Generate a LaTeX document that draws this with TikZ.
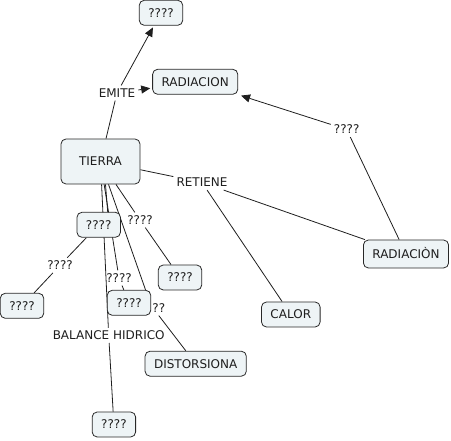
\documentclass[tikz,border=0pt]{standalone}
\usepackage{fontspec}
\setmainfont{DejaVu Sans}
\usetikzlibrary{arrows.meta,backgrounds}
\definecolor{conceptfill}{RGB}{238,244,246}
\definecolor{conceptline}{RGB}{40,40,40}
\definecolor{inkgray}{RGB}{30,30,30}
\tikzset{
  link/.style={inkgray,line width=0.8pt},
  flow/.style={link,-{Triangle[length=9pt,width=8pt]},shorten >=2pt},
  concept/.style={draw=conceptline,line width=0.8pt,fill=conceptfill,rounded corners=5pt,
                  minimum height=25pt,inner xsep=9pt,inner ysep=3pt,text height=8.8pt,text depth=0pt,
                  font=\fontsize{12}{14}\selectfont,text=inkgray},
  phrase/.style={inner sep=3pt,text height=8.8pt,text depth=0pt,
                 font=\fontsize{12}{14}\selectfont,text=inkgray},
}
\begin{document}
\begin{tikzpicture}[x=1pt,y=-1pt]
  \path[use as bounding box] (0,0) rectangle (451,441);

  \node[concept] (qtop) at (161,12.8) {????};
  \node[concept] (radA) at (195.2,81.8) {RADIACION};
  \node[concept,minimum width=79pt,minimum height=45pt] (tierra) at (100.5,161.5) {TIERRA};
  \node[concept,minimum height=28pt] (radB) at (406,254) {RADIACIÒN};
  \node[concept] (calor) at (290.8,314.5) {CALOR};
  \node[concept] (distor) at (195.7,363.7) {DISTORSIONA};
  \node[concept] (q1) at (98.7,224.8) {????};
  \node[concept] (qleft) at (22,305.8) {????};
  \node[concept] (qright) at (180,277.5) {????};
  \node[concept] (qmid) at (129,302.8) {????};
  \node[concept] (qbot) at (113.9,424.5) {????};

  \node[phrase] (emite) at (117,93) {EMITE};
  \node[phrase] (retiene) at (202,182.5) {RETIENE};
  \node[phrase] (lblR) at (346.7,129.5) {????};
  \node[phrase] (lblA) at (140,220) {????};
  \node[phrase] (lblB) at (60,265.3) {????};
  \node[phrase] (lblC) at (119,278) {????};
  \node[phrase] (lblD) at (158.8,308) {??};
  \node[phrase] (balance) at (108.7,335.4) {BALANCE HIDRICO};

  \begin{pgfonlayer}{background}
    \draw[link] (tierra) -- (emite);
    \draw[flow] (emite) -- (qtop);
    \draw[flow] (emite) -- (radA);
    \draw[link] (tierra) -- (retiene);
    \draw[link] (retiene) -- (radB);
    \draw[link] (retiene) -- (calor);
    \draw[link] (radB) -- (lblR);
    \draw[flow,shorten >=3pt] (lblR) -- (radA.south east);
    \draw[link] ([xshift=5pt]tierra.south) -- ([xshift=9pt]q1.north);
    \draw[link] (q1) -- (lblB);
    \draw[link] (lblB) -- (qleft);
    \draw[link] (tierra) -- (lblA);
    \draw[link] (lblA) -- (qright);
    \draw[link] (tierra) -- (lblC);
    \draw[link] (lblC) -- (qmid);
    \draw[link] (tierra) -- (lblD.north west);
    \draw[link] (lblD.south) -- (distor);
    \draw[link] (tierra) -- (balance);
    \draw[link] (balance) -- (qbot);
  \end{pgfonlayer}
\end{tikzpicture}
\end{document}
